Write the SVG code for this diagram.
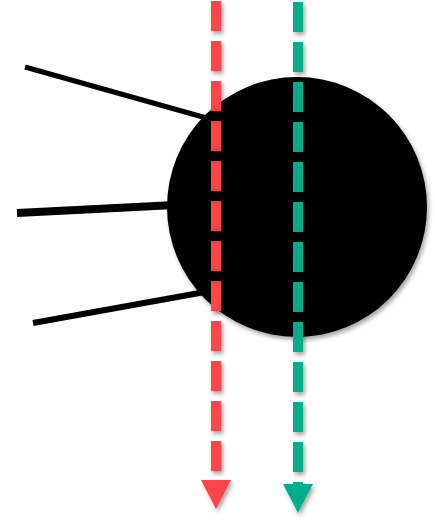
<svg xmlns="http://www.w3.org/2000/svg" width="435" height="522" viewBox="0 0 435 522">
<defs>
<filter id="sh" x="-20%" y="-20%" width="140%" height="140%">
<feDropShadow dx="2" dy="3" stdDeviation="2" flood-color="#000" flood-opacity="0.35"/>
</filter>
<style>
.in{stroke:#000;fill:none;stroke-linecap:butt}
.red{stroke:#FF4447;stroke-width:10;stroke-dasharray:30 10;fill:none}
.grn{stroke:#00AC8A;stroke-width:10;stroke-dasharray:30 10;fill:none}
</style>
</defs>
<g id="connectors">
<line class="in" x1="25" y1="67" x2="210" y2="119" stroke-width="5"/>
<line class="in" x1="17" y1="213" x2="175" y2="205" stroke-width="8"/>
<line class="in" x1="33" y1="323" x2="205" y2="292" stroke-width="6"/>
</g>
<g id="node" filter="url(#sh)">
<circle cx="297" cy="207" r="130" fill="#000"/>
</g>
<g id="flow-red" filter="url(#sh)">
<path class="red" d="M216 1V480"/>
<circle cx="216" cy="6" r="5" fill="#FF4447"/>
<polygon points="201,480 231,480 216,509" fill="#FF4447"/>
</g>
<g id="flow-green" filter="url(#sh)">
<path class="grn" d="M298 2V484"/>
<circle cx="298" cy="7" r="5" fill="#00AC8A"/>
<polygon points="283,484 313,484 298,513" fill="#00AC8A"/>
</g>
</svg>
